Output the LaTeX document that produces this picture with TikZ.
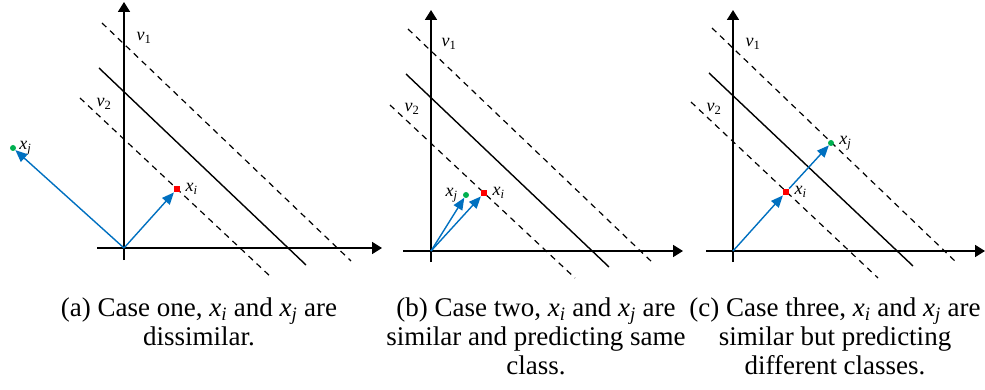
\documentclass[tikz,border=0pt]{standalone}
\usepackage{fontspec}
\setmainfont{Liberation Serif}
\usetikzlibrary{arrows.meta}

\definecolor{vecblue}{RGB}{0,112,192}
\definecolor{ptgreen}{RGB}{0,176,80}
\newcommand{\xs}[1]{\textit{x}\textsubscript{\textit{#1}}}
\newcommand{\vs}[1]{\textit{v}\textsubscript{#1}}

\tikzset{
  axis/.style={line width=1.7pt, -{Triangle[length=10pt,width=12pt]}},
  bound/.style={line width=1.4pt},
  margin/.style={line width=1.2pt, dash pattern=on 6pt off 5pt},
  vec/.style={vecblue, line width=1.4pt, -{Triangle[length=12pt,width=10pt]}},
  gdot/.style={circle, fill=ptgreen, inner sep=0pt, minimum size=6pt},
  rsq/.style={rectangle, fill=red, inner sep=0pt, minimum size=6.5pt},
  lab/.style={font=\fontsize{18}{20}\selectfont, inner sep=1pt},
  capt/.style={font=\fontsize{27}{29}\selectfont, align=center, anchor=north}
}

\begin{document}
\begin{tikzpicture}[x=1pt, y=-1pt]
  \useasboundingbox (0,0) rectangle (985,390);

  % (a) dissimilar
  \begin{scope}[shift={(124,248)}]
    \draw[axis] (0,12) -- (0,-246);
    \draw[axis] (-27,0) -- (258,0);
    \draw[bound] (-25,-180) -- (182,17);
    \draw[margin] (-22,-225) -- (227,13);
    \draw[margin] (-44,-150) -- (148,30);
    \node[lab] (va) at (20,-210) {\vs{1}};
    \node[lab] (vb) at (-20,-144) {\vs{2}};
    \coordinate (o) at (0,0);
    \node[gdot] (xj) at (-111,-100) {};
    \node[rsq] (xi) at (53,-59) {};
    \node[lab, anchor=west] (lj) at ([xshift=2pt]xj.east) {\xs{j}};
    \node[lab, anchor=west] (li) at ([xshift=4pt]xi.east) {\xs{i}};
    \draw[vec] (o) -- (xj);
    \draw[vec] (o) -- (xi);
  \end{scope}

  % (b) similar, same class
  \begin{scope}[shift={(431,251)}]
    \draw[axis] (0,11) -- (0,-241);
    \draw[axis] (-28,0) -- (252,0);
    \draw[bound] (-25,-177) -- (178,16);
    \draw[margin] (-23,-222) -- (222,12);
    \draw[margin] (-41,-146) -- (144,27);
    \node[lab] (va) at (18,-207) {\vs{1}};
    \node[lab] (vb) at (-19,-142) {\vs{2}};
    \coordinate (o) at (0,0);
    \node[gdot] (xj) at (35,-56) {};
    \node[rsq] (xi) at (53,-58) {};
    \node[lab, anchor=east] (lj) at ([xshift=-4pt]xj.west) {\xs{j}};
    \node[lab, anchor=west] (li) at ([xshift=4pt]xi.east) {\xs{i}};
    \draw[vec] (o) -- (xj);
    \draw[vec] (o) -- (xi);
  \end{scope}

  % (c) similar, different classes
  \begin{scope}[shift={(733,251)}]
    \draw[axis] (0,11) -- (0,-241);
    \draw[axis] (-27,0) -- (252,0);
    \draw[bound] (-24,-178) -- (180,15);
    \draw[margin] (-21,-223) -- (224,12);
    \draw[margin] (-42,-149) -- (145,27);
    \node[lab] (va) at (20,-207) {\vs{1}};
    \node[lab] (vb) at (-19,-142) {\vs{2}};
    \coordinate (o) at (0,0);
    \node[rsq] (xi) at (53,-59) {};
    \node[gdot] (xj) at (98,-108) {};
    \node[lab, anchor=west] (li) at ([xshift=4pt]xi.east) {\xs{i}};
    \node[lab, anchor=west] (lj) at ([xshift=4pt]xj.east) {\xs{j}};
    \draw[vec] (o) -- (xi);
    \draw[vec] (xi) -- (xj);
  \end{scope}

  % captions
  \node[capt] (ca) at (199,294) {(a) Case one, \xs{i} and \xs{j} are\\dissimilar.};
  \node[capt] (cb) at (536,294) {(b) Case two, \xs{i} and \xs{j} are\\similar and predicting same\\class.};
  \node[capt] (cc) at (835,294) {(c) Case three, \xs{i} and \xs{j} are\\similar but predicting\\different classes.};
\end{tikzpicture}
\end{document}
